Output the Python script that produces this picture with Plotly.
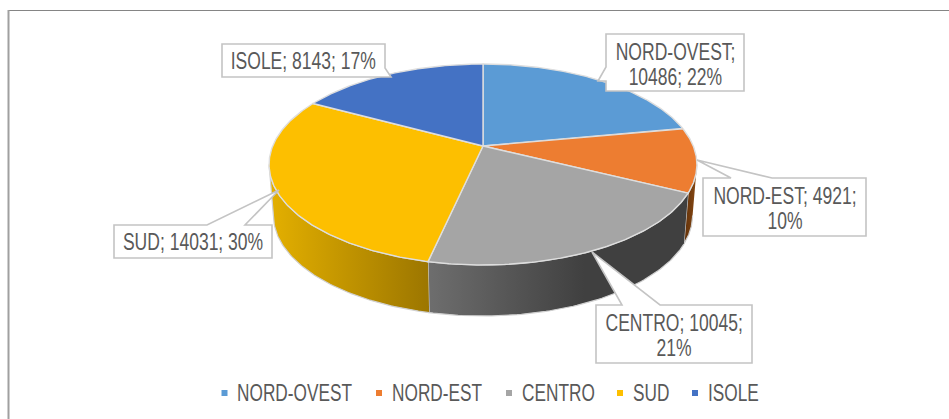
import numpy as np
import plotly.graph_objects as go

# ---- data ----
regions = ["NORD-OVEST", "NORD-EST", "CENTRO", "SUD", "ISOLE"]
values = [10486, 4921, 10045, 14031, 8143]
percents = ["22%", "10%", "21%", "30%", "17%"]
colors = ["#5B9BD5", "#ED7D31", "#A5A5A5", "#FDBF00", "#4472C4"]

W, H = 949, 419
CX, CY_TOP, CY_BOT = 483, 146, 197
A, K = 97.1, 0.184
B_TOP, B_BOT = 210.3, 206.0
EDGE = "#dedede"
TEXT = "#595959"
FONT = "Liberation Sans, Arial"
FS_LEGEND = 23
FS_LABEL = 23
LINE_GAP = 25

# wall gradients [left colour, right colour] by slice
wall_scales = {
    1: [[0, "#5f3009"], [1, "#8a4a14"]],
    2: [[0, "#6e6e6e"], [0.6, "#404040"], [1, "#404040"]],
    3: [[0, "#E4B000"], [1, "#9C7600"]],
}


def project(theta, cy, b):
    d = 1 + K * np.cos(theta)
    return CX + b * np.sin(theta) / d, cy - A * np.cos(theta) / d


share = np.array(values, dtype=float) / sum(values)
edges = np.concatenate([[0], np.cumsum(share)]) * 2 * np.pi
th_lo = np.arccos(-K)
th_hi = 2 * np.pi - th_lo

fig = go.Figure()

# side walls
for i, scale in wall_scales.items():
    a0, a1 = max(edges[i], th_lo), min(edges[i + 1], th_hi)
    t = np.linspace(a0, a1, 80)
    xt, yt = project(t, CY_TOP, B_TOP)
    xb, yb = project(t, CY_BOT, B_BOT)
    fig.add_trace(go.Scatter(
        x=np.concatenate([xt, xb[::-1]]), y=np.concatenate([yt, yb[::-1]]),
        mode="lines", fill="toself", line=dict(color="#d0d0d0", width=1.2),
        fillgradient=dict(type="horizontal", colorscale=scale),
        hoverinfo="skip", showlegend=False))

# top faces
for i, name in enumerate(regions):
    t = np.linspace(edges[i], edges[i + 1], 160)
    xa, ya = project(t, CY_TOP, B_TOP)
    fig.add_trace(go.Scatter(
        x=np.concatenate([[CX], xa, [CX]]), y=np.concatenate([[CY_TOP], ya, [CY_TOP]]),
        mode="lines", fill="toself", fillcolor=colors[i],
        line=dict(color=EDGE, width=1.4), name=name,
        hoverinfo="name", showlegend=False))

# manual legend
legend_x = [224.5, 379, 509, 620, 695]
legend_y = 393
fig.add_trace(go.Scatter(
    x=legend_x, y=[legend_y] * 5, mode="markers",
    marker=dict(symbol="square", size=6, color=colors, line=dict(width=0)),
    hoverinfo="skip", showlegend=False))
annotations = [
    dict(x=x + 10.5, y=legend_y, text=n, xanchor="left", yanchor="middle", showarrow=False,
         font=dict(family=FONT, size=FS_LEGEND, color=TEXT))
    for x, n in zip(legend_x, regions)
]

# callouts: box (x0, y0, x1, y1), pointer tip, pointer base points, text lines
callouts = [
    ((606, 34, 744, 91), (598, 81), ((606, 67), (606, 81)),
     [f"{regions[0]};", f"{values[0]}; {percents[0]}"]),
    ((703, 178, 866, 236), (697, 160), ((731, 178), (772, 178)),
     [f"{regions[1]}; {values[1]};", percents[1]]),
    ((596, 305, 752, 363), (592, 252), ((622, 305), (660, 305)),
     [f"{regions[2]}; {values[2]};", percents[2]]),
    ((114, 225, 272, 258), (279, 190), ((207, 225), (245, 225)),
     [f"{regions[3]}; {values[3]}; {percents[3]}"]),
    ((222, 44, 385, 77), (391, 77), ((385, 68), (380, 77)),
     [f"{regions[4]}; {values[4]}; {percents[4]}"]),
]
shapes = []
for (x0, y0, x1, y1), tip, base, lines in callouts:
    p1, p2 = base
    if p1[1] == y0 and p2[1] == y0:      # top side
        pts = [(x0, y0), p1, tip, p2, (x1, y0), (x1, y1), (x0, y1)]
    elif p1[0] == x0 and p2[0] == x0:    # left side
        pts = [(x0, y0), (x1, y0), (x1, y1), (x0, y1), p2, tip, p1]
    else:                                # bottom-right corner
        pts = [(x0, y0), (x1, y0), p1, tip, p2, (x0, y1)]
    path = "M " + " L ".join(f"{a},{b}" for a, b in pts) + " Z"
    shapes.append(dict(type="path", path=path, xref="x", yref="y", layer="above",
                       fillcolor="white", line=dict(color="#c4c4c4", width=1.6)))
    mid = (y0 + y1) / 2
    ys = [mid] if len(lines) == 1 else [mid - LINE_GAP / 2 + 1.5, mid + LINE_GAP / 2 + 1.5]
    for y, txt in zip(ys, lines):
        annotations.append(dict(x=(x0 + x1) / 2, y=y, text=txt, showarrow=False,
                                xanchor="center", yanchor="middle", align="center",
                                font=dict(family=FONT, size=FS_LABEL, color=TEXT)))

# chart frame
shapes.append(dict(type="line", xref="x", yref="y", x0=8, x1=W, y0=10.5, y1=10.5, layer="below",
                   line=dict(color="#858585", width=1.2)))
shapes.append(dict(type="line", xref="x", yref="y", x0=8.5, x1=8.5, y0=10, y1=H, layer="below",
                   line=dict(color="#a0a0a0", width=2)))

fig.update_layout(
    width=W, height=H, autosize=False,
    margin=dict(l=0, r=0, t=0, b=0),
    paper_bgcolor="white", plot_bgcolor="white",
    showlegend=False,
    xaxis=dict(range=[0, W], visible=False, fixedrange=True),
    yaxis=dict(range=[H, 0], visible=False, fixedrange=True),
    shapes=shapes, annotations=annotations,
)

# Arial-Narrow look: squeeze the real text horizontally (no narrow font is installed)
post = """
document.body.style.margin='0';document.body.style.overflow='hidden';
function squeeze(){
  document.querySelectorAll('.annotation').forEach(function(g,i){
    var t=g.querySelector('text'); if(!t||t.dataset.sq) return;
    var b=t.getBBox(); var ox=i<5?b.x:b.x+b.width/2; var s=i<5?0.75:0.762;
    t.setAttribute('transform','translate('+ox+',0) scale('+s+',1) translate('+(-ox)+',0)');
    t.dataset.sq='1';
  });
}
squeeze(); setTimeout(squeeze,50);
"""
fig.write_html("out.html", post_script=post, config={"displayModeBar": False})
